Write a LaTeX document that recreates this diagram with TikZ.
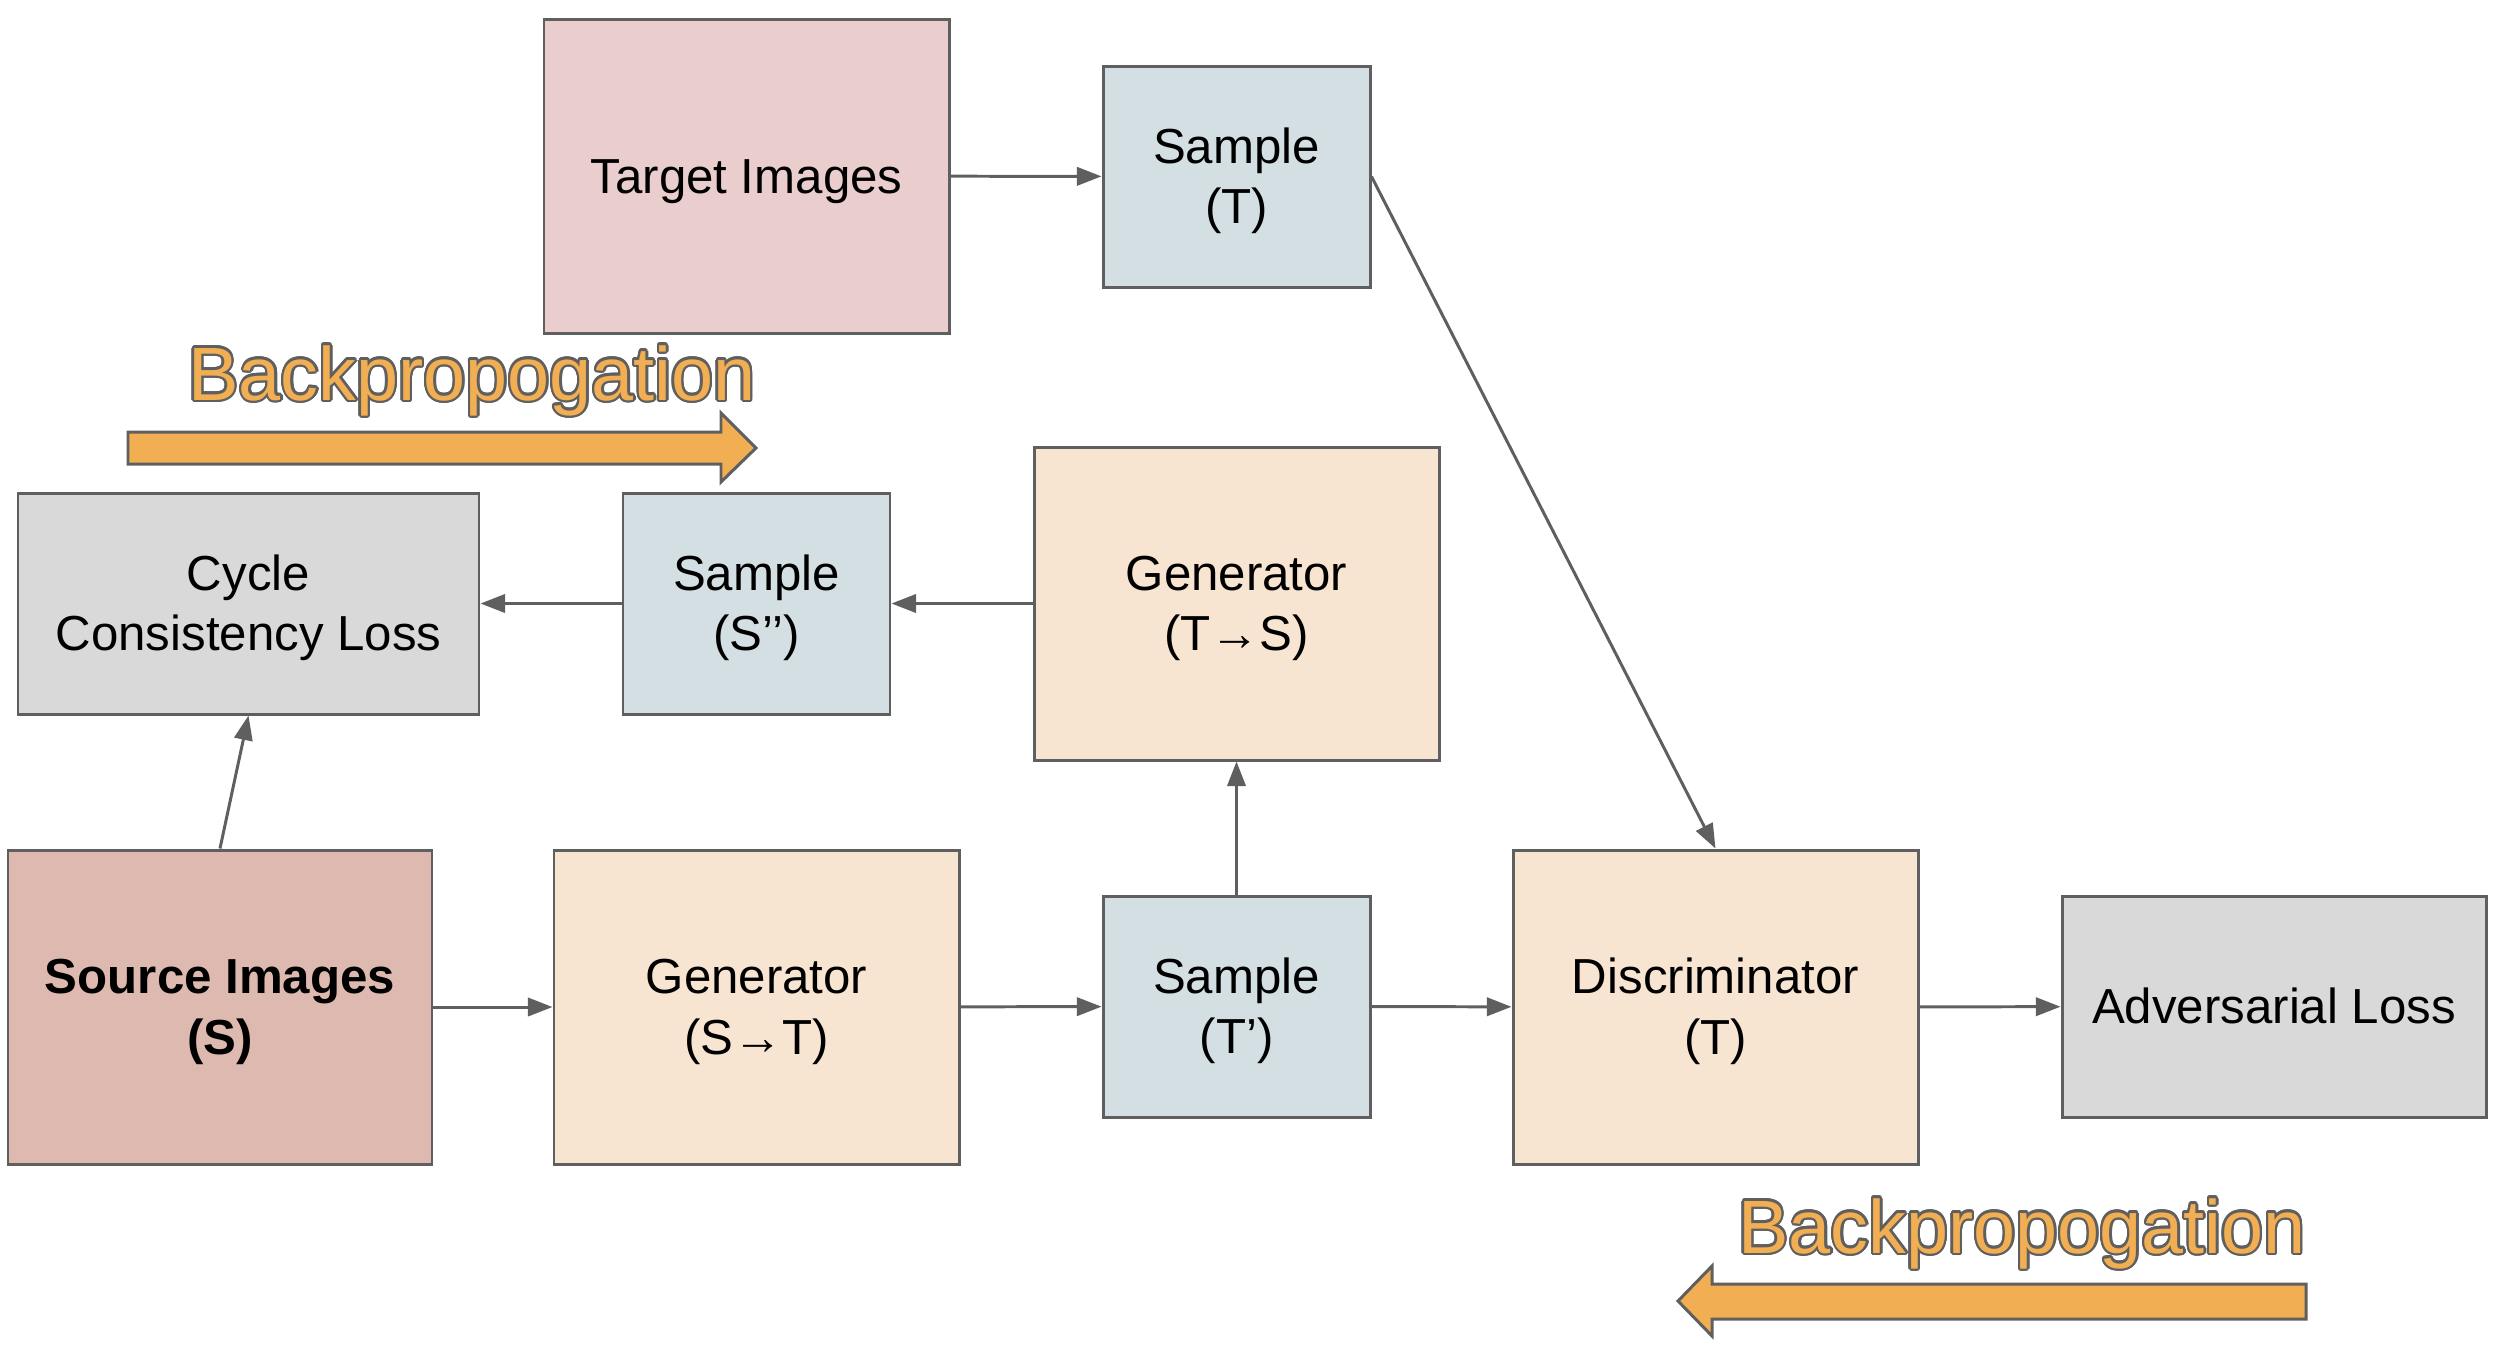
\documentclass[tikz,border=0pt]{standalone}
\usepackage{fontspec}
\setmainfont{Liberation Sans}
\usepackage{tikz}
\usetikzlibrary{arrows.meta}
\usepackage{contour}
\contourlength{0.7pt}
\usepackage{color}
\definecolor{linecol}{HTML}{5F5F5F}
\definecolor{targetcol}{HTML}{EACDCD}
\definecolor{sourcecol}{HTML}{DEB9B0}
\definecolor{samplecol}{HTML}{D3DFE3}
\definecolor{gencol}{HTML}{F8E5D1}
\definecolor{losscol}{HTML}{D9D9D9}
\definecolor{bpcol}{HTML}{F1AE53}

\begin{document}
\begin{tikzpicture}
  [x=1cm, y=-1cm,
   block/.style={rectangle, draw=linecol, line width=0.85pt, align=center, inner sep=0pt,
     font=\fontsize{14}{17.3}\selectfont, text height=30pt, text depth=3pt},
   oneline/.style={text height=12.7pt},
   small/.style={block, minimum width=2.67cm, minimum height=2.21cm},
   big/.style={block, minimum width=4.05cm, minimum height=3.14cm},
   link/.style={draw=linecol, line width=0.85pt, -{Triangle[length=7pt, width=5.2pt]}},
   bplabel/.style={anchor=base, inner sep=0pt, text=bpcol, font=\fontsize{21.5}{26}\selectfont},
   bparrow/.style={fill=bpcol, draw=linecol, line width=0.85pt}]
  \useasboundingbox (0, 0) rectangle (25.10, 13.56);

  \node (target) at (7.465, 1.76) [big, oneline, fill=targetcol] {Target Images};
  \node (sampT) at (12.365, 1.765) [small, fill=samplecol] {Sample\\(T)};
  \node (cycle) at (2.485, 6.035) [small, fill=losscol, minimum width=4.61cm] {Cycle\\Consistency Loss};
  \node (sampS) at (7.565, 6.035) [small, fill=samplecol] {Sample\\(S’’)};
  \node (genTS) at (12.365, 6.035) [big, fill=gencol, minimum height=3.13cm] {Generator\\(T→S)};
  \node (source) at (2.20, 10.07) [big, fill=sourcecol, minimum width=4.24cm] {\textbf{Source Images}\\\textbf{(S)}};
  \node (genST) at (7.565, 10.07) [big, fill=gencol] {Generator\\(S→T)};
  \node (sampTp) at (12.365, 10.065) [small, fill=samplecol] {Sample\\(T’)};
  \node (disc) at (17.155, 10.07) [big, fill=gencol] {Discriminator\\(T)};
  \node (adv) at (22.74, 10.065) [small, oneline, fill=losscol, minimum width=4.24cm] {Adversarial Loss};

  \draw [link] (target) to (sampT);
  \draw [link] (sampT.east) to (disc.north);
  \draw [link] (genTS) to (sampS);
  \draw [link] (sampS) to (cycle);
  \draw [link] (source.north) to (cycle.south);
  \draw [link] (source) to (genST);
  \draw [link] (genST) to (sampTp);
  \draw [link] (sampTp) to (genTS);
  \draw [link] (sampTp) to (disc);
  \draw [link] (disc) to (adv);

  % backpropagation arrows
  \node (bptop) at (4.72, 4.00) [bplabel] {\contour{linecol}{Backpropogation}};
  \draw [bparrow] (1.28, 4.32) -- (7.21, 4.32) -- (7.21, 4.13) -- (7.56, 4.48)
    -- (7.21, 4.82) -- (7.21, 4.64) -- (1.28, 4.64) -- cycle;
  \node (bpbot) at (20.22, 12.53) [bplabel] {\contour{linecol}{Backpropogation}};
  \draw [bparrow] (23.06, 12.84) -- (17.12, 12.84) -- (17.12, 12.66) -- (16.78, 13.01)
    -- (17.12, 13.36) -- (17.12, 13.19) -- (23.06, 13.19) -- cycle;
\end{tikzpicture}
\end{document}
